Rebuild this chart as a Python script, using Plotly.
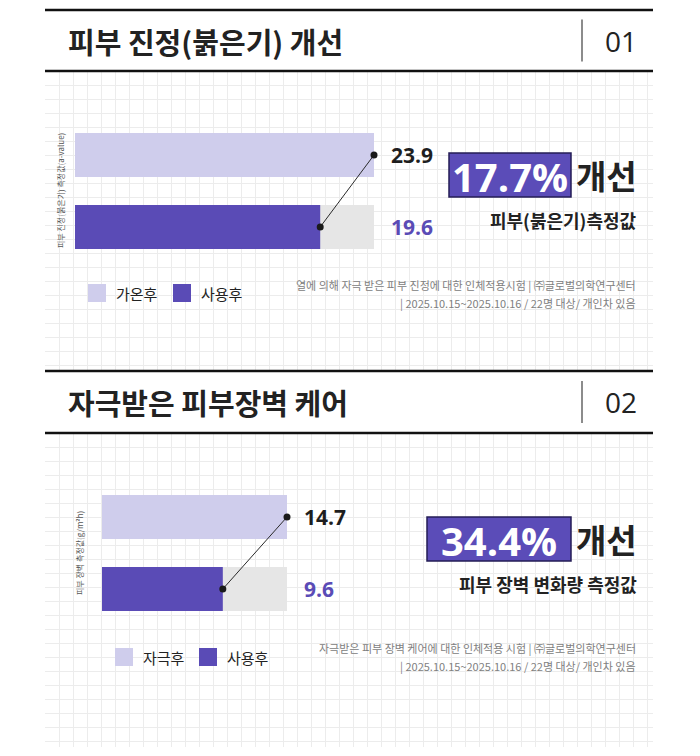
import plotly.graph_objects as go

# ---------------- data ----------------
panel_titles = ["피부 진정(붉은기) 개선", "자극받은 피부장벽 케어"]
panel_numbers = ["01", "02"]
p1_labels = ["가온후", "사용후"]
p1_values = [23.9, 19.6]
p2_labels = ["자극후", "사용후"]
p2_values = [14.7, 9.6]
improve_pct = ["17.7%", "34.4%"]
improve_word = "개선"
measure_labels = ["피부(붉은기)측정값", "피부 장벽 변화량 측정값"]
axis_titles = ["피부 진정(붉은기) 측정값(a-value)", "피부 장벽 측정값(g/m²h)"]
foot_line1 = ["열에 의해 자극 받은 피부 진정에 대한 인체적용시험 | ㈜글로벌의학연구센터",
              "자극받은 피부 장벽 케어에 대한 인체적용 시험 | ㈜글로벌의학연구센터"]
foot_line2 = ["| 2025.10.15~2025.10.16 / 22명 대상/ 개인차 있음",
              "| 2025.10.15~2025.10.16 / 22명 대상/ 개인차 있음"]

# ---------------- style ----------------
W, H = 700, 756
LIGHT = "#cfcdec"
PURPLE = "#5a4bb6"
GRAYBAR = "#e6e6e6"
DARK = "#1e1e1e"
KR = "Noto Sans CJK KR"
NUM = "Open Sans"


def X(px):
    return px / W


def Y(py):
    return 1 - py / H


fig = go.Figure()
layout = dict(width=W, height=H, margin=dict(l=0, r=0, t=0, b=0),
              paper_bgcolor="white", plot_bgcolor="rgba(0,0,0,0)",
              showlegend=False, shapes=[], annotations=[])

# panel geometry (pixels)
panels = [
    dict(top=10, hdr=71, bottom=371, bar_x0=75, bar_x1=374, bar_y0=119,
         box=(449, 153, 571, 197), meas_y=220, leg_y=293, leg_x=88,
         leg_gap=85, foot_y=285, ylab_x=60),
    dict(top=371, hdr=433, bottom=747, bar_x0=102, bar_x1=287, bar_y0=481,
         box=(427, 517, 571, 561), meas_y=584, leg_y=657, leg_x=115,
         leg_gap=84, foot_y=648, ylab_x=79),
]
labels_all = [p1_labels, p2_labels]
values_all = [p1_values, p2_values]

# background grid subplots (ids 1,2) then bar subplots (ids 3,4)
for i, p in enumerate(panels):
    ax = "" if i == 0 else str(i + 1)
    layout["xaxis" + ax] = dict(domain=[X(45), X(653)], range=[45, 653], tick0=45, dtick=14,
                                showgrid=True, gridcolor="#ececec", gridwidth=1,
                                zeroline=False, showticklabels=False, ticks="",
                                anchor="y" + ax, fixedrange=True)
    layout["yaxis" + ax] = dict(domain=[Y(p["bottom"]), Y(p["hdr"])], range=[p["bottom"], p["hdr"]],
                                tick0=p["hdr"], dtick=14, showgrid=True, gridcolor="#ececec",
                                gridwidth=1, zeroline=False, showticklabels=False, ticks="",
                                anchor="x" + ax, fixedrange=True)
    fig.add_trace(go.Scatter(x=[None], y=[None], xaxis="x" + ax, yaxis="y" + ax,
                             hoverinfo="skip"))

for i, p in enumerate(panels):
    n = str(i + 3)
    labels = labels_all[i]
    vals = values_all[i]
    vmax = max(vals)
    layout["xaxis" + n] = dict(domain=[X(p["bar_x0"]), X(p["bar_x1"])], range=[0, vmax],
                               visible=False, anchor="y" + n, fixedrange=True)
    layout["yaxis" + n] = dict(domain=[Y(p["bar_y0"] + 144), Y(p["bar_y0"])],
                               type="category", categoryorder="array", categoryarray=labels,
                               range=[1.5, -0.5], visible=False, anchor="x" + n, fixedrange=True)
    bw = 44 / 72
    # gray track behind the "after" bar
    fig.add_trace(go.Bar(x=[vmax], y=[labels[1]], orientation="h", width=bw,
                         marker=dict(color=GRAYBAR, line=dict(width=0)),
                         xaxis="x" + n, yaxis="y" + n, hoverinfo="skip"))
    fig.add_trace(go.Bar(x=[vals[0]], y=[labels[0]], orientation="h", width=bw,
                         marker=dict(color=LIGHT, line=dict(width=0)),
                         xaxis="x" + n, yaxis="y" + n, name=labels[0]))
    fig.add_trace(go.Bar(x=[vals[1]], y=[labels[1]], orientation="h", width=bw,
                         marker=dict(color=PURPLE, line=dict(width=0)),
                         xaxis="x" + n, yaxis="y" + n, name=labels[1]))
    fig.add_trace(go.Scatter(x=vals, y=labels, mode="lines+markers", cliponaxis=False,
                             line=dict(color="#2a2a2a", width=1),
                             marker=dict(color="#1a1a1a", size=7),
                             xaxis="x" + n, yaxis="y" + n, hoverinfo="skip"))
    # value labels
    for j, (lab, v) in enumerate(zip(labels, vals)):
        layout["annotations"].append(dict(
            xref="x" + n, yref="y" + n, x=vmax, y=lab, xshift=15, xanchor="left",
            yanchor="middle", showarrow=False, text="<b>%s</b>" % v,
            font=dict(family=NUM, size=21, color=DARK if j == 0 else PURPLE)))

    # header lines
    for py in (p["top"], p["hdr"]):
        layout["shapes"].append(dict(type="line", xref="paper", yref="paper",
                                     x0=X(45), x1=X(653), y0=Y(py), y1=Y(py),
                                     line=dict(color="#111111", width=2.5)))
    hc = (p["top"] + p["hdr"]) / 2
    layout["shapes"].append(dict(type="line", xref="paper", yref="paper",
                                 x0=X(582), x1=X(582), y0=Y(hc - 21), y1=Y(hc + 21),
                                 line=dict(color="#666666", width=1.5)))
    layout["annotations"].append(dict(xref="paper", yref="paper", x=X(66), y=Y(hc),
                                      xanchor="left", yanchor="middle", showarrow=False,
                                      text="<b>%s</b>" % panel_titles[i],
                                      font=dict(family=KR, size=29, color="#222222")))
    layout["annotations"].append(dict(xref="paper", yref="paper", x=X(603), y=Y(hc),
                                      xanchor="left", yanchor="middle", showarrow=False,
                                      text=panel_numbers[i],
                                      font=dict(family=NUM, size=28, color="#222222")))

    # improvement box
    bx0, by0, bx1, by1 = p["box"]
    layout["shapes"].append(dict(type="rect", xref="paper", yref="paper",
                                 x0=X(bx0), x1=X(bx1), y0=Y(by1), y1=Y(by0),
                                 fillcolor="#5b4cb8", line=dict(color="#241d55", width=1.5)))
    layout["annotations"].append(dict(xref="paper", yref="paper", x=X((bx0 + bx1) / 2),
                                      y=Y((by0 + by1) / 2 + 1), xanchor="center", yanchor="middle",
                                      showarrow=False, text="<b>%s</b>" % improve_pct[i],
                                      font=dict(family=NUM, size=40, color="white")))
    layout["annotations"].append(dict(xref="paper", yref="paper", x=X(639), y=Y((by0 + by1) / 2),
                                      xanchor="right", yanchor="middle", showarrow=False,
                                      text="<b>%s</b>" % improve_word,
                                      font=dict(family=KR, size=33, color="#222222")))
    layout["annotations"].append(dict(xref="paper", yref="paper", x=X(639), y=Y(p["meas_y"]),
                                      xanchor="right", yanchor="middle", showarrow=False,
                                      text="<b>%s</b>" % measure_labels[i],
                                      font=dict(family=KR, size=18, color="#222222")))

    # y axis title (rotated)
    layout["annotations"].append(dict(xref="paper", yref="paper", x=X(p["ylab_x"]),
                                      y=Y(p["bar_y0"] + 72), xanchor="center", yanchor="middle",
                                      showarrow=False, textangle=-90, text=axis_titles[i],
                                      font=dict(family=KR, size=8, color="#555555")))

    # legend
    for k, (lab, col) in enumerate(zip(labels, [LIGHT, PURPLE])):
        lx = p["leg_x"] + k * p["leg_gap"]
        layout["shapes"].append(dict(type="rect", xref="paper", yref="paper",
                                     x0=X(lx), x1=X(lx + 18), y0=Y(p["leg_y"] + 9),
                                     y1=Y(p["leg_y"] - 9), fillcolor=col,
                                     line=dict(width=0)))
        layout["annotations"].append(dict(xref="paper", yref="paper", x=X(lx + 26),
                                          y=Y(p["leg_y"]), xanchor="left", yanchor="middle",
                                          showarrow=False, text=lab,
                                          font=dict(family=KR, size=15, color="#222222")))

    # footnotes
    for k, t in enumerate([foot_line1[i], foot_line2[i]]):
        layout["annotations"].append(dict(xref="paper", yref="paper", x=X(638),
                                          y=Y(p["foot_y"] + 18 * k), xanchor="right",
                                          yanchor="middle", showarrow=False, text=t,
                                          font=dict(family=KR, size=11, color="#808080")))

layout["barmode"] = "overlay"
fig.update_layout(**layout)
fig.write_html("out.html")
